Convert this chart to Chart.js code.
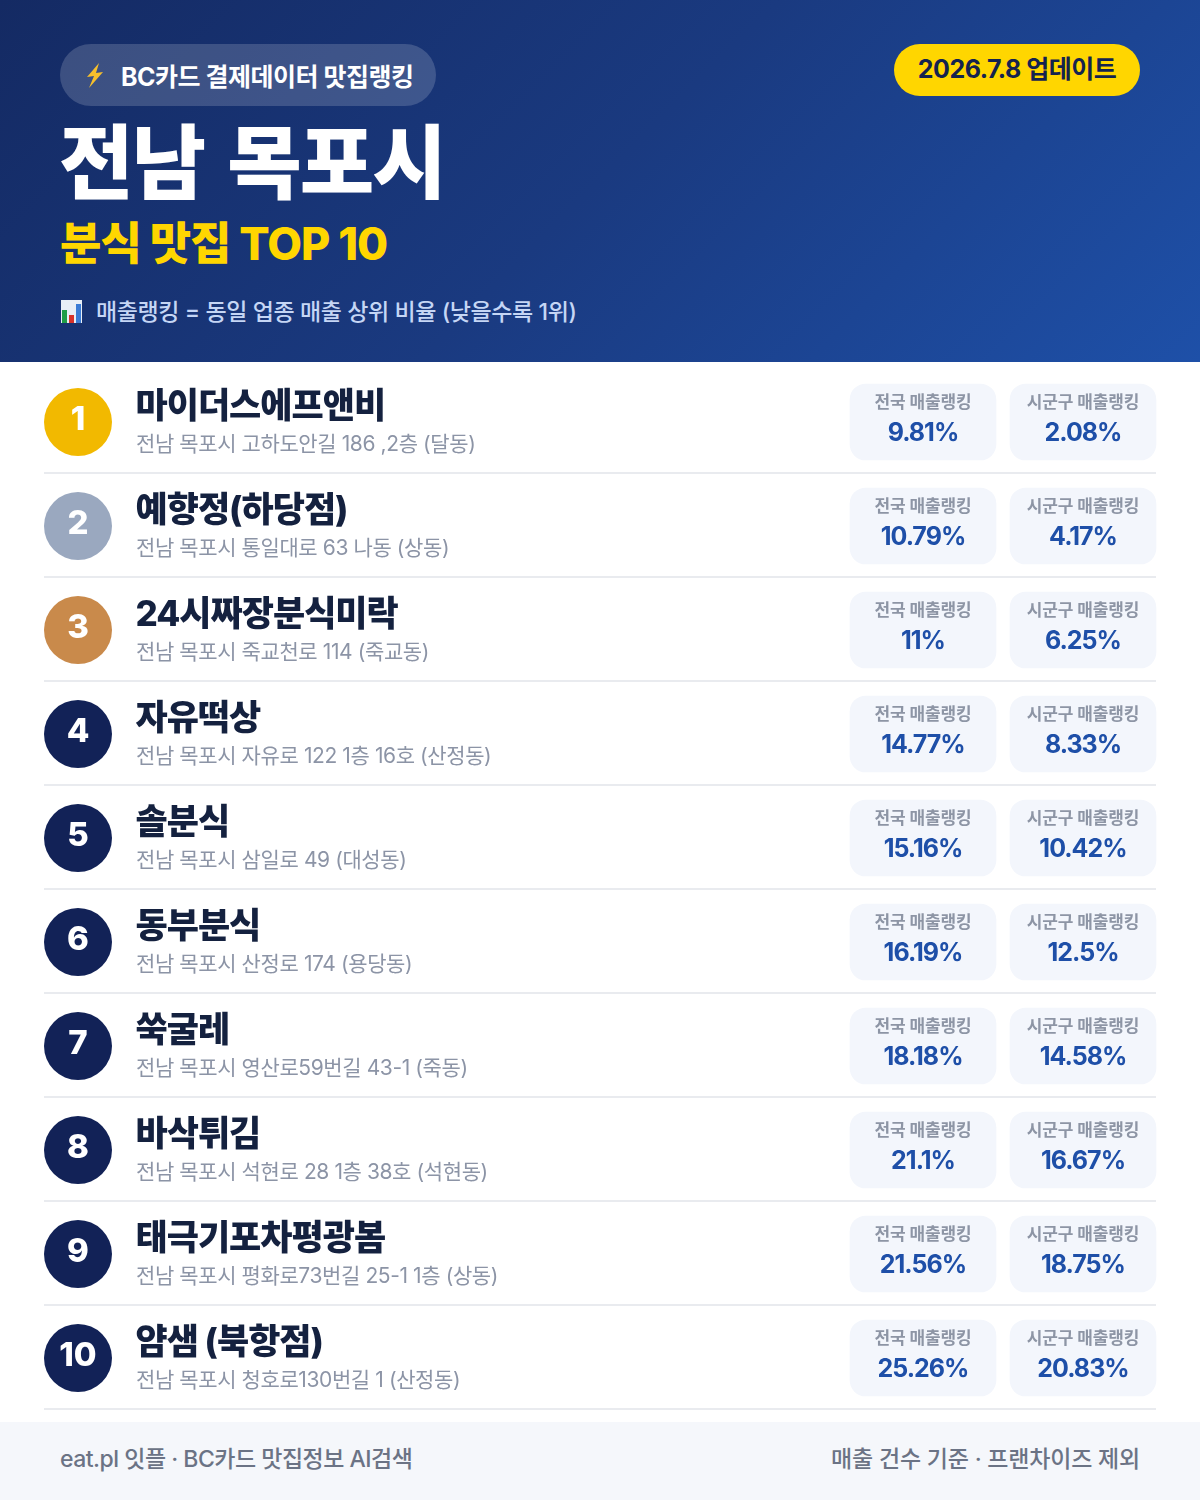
<!DOCTYPE html>
<html lang="ko">
<head>
<meta charset="utf-8">
<title>전남 목포시 분식 맛집 TOP 10</title>
<script src="https://cdn.jsdelivr.net/npm/chart.js@4"></script>
<style>
  * { box-sizing: border-box; }
  body { margin: 0; width: 1200px; height: 1500px; position: relative; background: #fff; overflow: hidden;
         font-family: Inter, "Noto Sans CJK KR", sans-serif; }
  #header { position: absolute; left: 0; top: 0; width: 1200px; height: 362px;
            background: linear-gradient(135deg, #142a63 0%, #1a3a80 50%, #1e50a8 100%); }
  #header div, #footer div { position: absolute; white-space: nowrap; }
  #badge { left: 60px; top: 44px; width: 376px; height: 62px; border-radius: 31px; background: rgba(255,255,255,.17); }
  #badge svg { position: absolute; left: 24px; top: 19px; }
  #badge span { position: absolute; left: 61px; top: 2px; line-height: 62px; font-size: 25px; font-weight: 700; color: #fff; letter-spacing: -.5px; }
  #update { left: 894px; top: 44px; width: 246px; height: 52px; border-radius: 26px; background: #ffd600;
            text-align: center; line-height: 50px; font-size: 25px; font-weight: 700; color: #14234f; letter-spacing: -.5px; }
  #title { left: 59px; top: 105px; font-size: 81px; line-height: 116px; font-weight: 900; color: #fff; letter-spacing: -2px; word-spacing: 9px; }
  #subtitle { left: 60px; top: 212px; font-size: 45px; line-height: 64px; font-weight: 800; color: #ffd600; letter-spacing: -1px; }
  #note { left: 96px; top: 295px; font-size: 23px; line-height: 34px; font-weight: 500; color: #c5d6f5; letter-spacing: -.4px; }
  #noteIcon { position: absolute; left: 61px; top: 300px; }
  #chartBox { position: absolute; left: 0; top: 362px; width: 1200px; height: 1060px; }
  #footer { position: absolute; left: 0; top: 1422px; width: 1200px; height: 78px; background: #f5f7fb; }
  #footer div { top: 0; line-height: 74px; font-size: 23px; font-weight: 500; color: #6b7385; letter-spacing: -.5px; }
  #footL { left: 60px; }
  #footR { right: 60px; letter-spacing: -.2px !important; }
</style>
</head>
<body>
<div id="header">
  <div id="badge">
    <svg width="22" height="25" viewBox="0 0 22 25" aria-hidden="true"><path d="M15 0 L3 14 L10 13 L5 25 L19 9 L12 10 Z" fill="#f7c02c"/></svg>
    <span>BC카드 결제데이터 맛집랭킹</span>
  </div>
  <div id="update">2026.7.8 업데이트</div>
  <div id="title">전남 목포시</div>
  <div id="subtitle">분식 맛집 TOP 10</div>
  <svg id="noteIcon" width="21" height="23" viewBox="0 0 21 23" aria-hidden="true">
    <rect width="21" height="23" fill="#e8eef6"/>
    <rect x="1" y="10" width="5" height="13" fill="#1f9d46"/>
    <rect x="8" y="15" width="5" height="8" fill="#d8322a"/>
    <rect x="15" y="4" width="5" height="19" fill="#3a7bd5"/>
  </svg>
  <div id="note">매출랭킹 = 동일 업종 매출 상위 비율 (낮을수록 1위)</div>
</div>
<div id="chartBox"><canvas id="rankChart" width="1200" height="1060"></canvas></div>
<div id="footer">
  <div id="footL">eat.pl 잇플 · BC카드 맛집정보 AI검색</div>
  <div id="footR">매출 건수 기준 · 프랜차이즈 제외</div>
</div>
<script>
// 가게 목록과 매출랭킹 값
const storeNames = ['마이더스에프앤비', '예향정(하당점)', '24시짜장분식미락', '자유떡상', '솔분식', '동부분식', '쑥굴레', '바삭튀김', '태극기포차평광봄', '얌샘 (북항점)'];
const addresses = [
    '전남 목포시 고하도안길 186 ,2층 (달동)',
    '전남 목포시 통일대로 63 나동 (상동)',
    '전남 목포시 죽교천로 114 (죽교동)',
    '전남 목포시 자유로 122 1층 16호 (산정동)',
    '전남 목포시 삼일로 49 (대성동)',
    '전남 목포시 산정로 174 (용당동)',
    '전남 목포시 영산로59번길 43-1 (죽동)',
    '전남 목포시 석현로 28 1층 38호 (석현동)',
    '전남 목포시 평화로73번길 25-1 1층 (상동)',
    '전남 목포시 청호로130번길 1 (산정동)'
];
const ranks = [1, 2, 3, 4, 5, 6, 7, 8, 9, 10];
const nationalPct = [9.81, 10.79, 11, 14.77, 15.16, 16.19, 18.18, 21.1, 21.56, 25.26];
const localPct = [2.08, 4.17, 6.25, 8.33, 10.42, 12.5, 14.58, 16.67, 18.75, 20.83];
const cardLabels = ['전국 매출랭킹', '시군구 매출랭킹'];

const FONT = 'Inter, "Noto Sans CJK KR", sans-serif';
const CARD_W = 146;
const CARD_L = [850, 1010];
const RANK_X = 78;
const ROW_H = 104;

function rankColor(i) {
    if (i === 0) return '#f2b900';
    if (i === 1) return '#9aa8bf';
    if (i === 2) return '#c98a4b';
    return '#122257';
}

function text(ctx, str, x, y, font, color, align, spacing) {
    ctx.font = font + ' ' + FONT;
    ctx.fillStyle = color;
    ctx.textAlign = align;
    ctx.textBaseline = 'middle';
    ctx.letterSpacing = spacing + 'px';
    ctx.fillText(str, x, y);
}

// 구분선과 글자는 y축 위치를 따라 그린다
const rowPlugin = {
    id: 'rowPlugin',
    beforeDatasetsDraw(chart) {
        const { ctx, scales: { y } } = chart;
        ctx.save();
        ctx.fillStyle = '#e9ebef';
        storeNames.forEach((n, i) => {
            ctx.fillRect(44, y.getPixelForValue(i) + ROW_H / 2 - 2, 1112, 2);
        });
        ctx.restore();
    },
    afterDatasetsDraw(chart) {
        const { ctx, scales: { x, y } } = chart;
        ctx.save();
        storeNames.forEach((name, i) => {
            const cy = y.getPixelForValue(i);
            text(ctx, ranks[i], x.getPixelForValue(RANK_X), cy - 2, '800 33px', '#fff', 'center', 0);
            text(ctx, name, 135.5, cy - 15, '800 35px', '#14213f', 'left', -1);
            text(ctx, addresses[i], 136, cy + 23, '400 21px', '#8c94a6', 'left', -0.4);
            [nationalPct, localPct].forEach((vals, c) => {
                const cx = x.getPixelForValue(CARD_L[c] + CARD_W / 2);
                text(ctx, cardLabels[c], cx, cy - 19, '700 17px', '#8d95a5', 'center', -0.1);
                text(ctx, vals[i] + '%', cx, cy + 11, '700 25px', '#1e4fa8', 'center', -1);
            });
        });
        ctx.restore();
    }
};

const cardData = c => storeNames.map(() => [CARD_L[c], CARD_L[c] + CARD_W]);
const cardSet = c => ({
    data: cardData(c),
    backgroundColor: '#f3f6fc',
    borderSkipped: false,
    borderRadius: 16,
    barThickness: 76,
    grouped: false
});

new Chart(document.getElementById('rankChart'), {
    type: 'bar',
    data: {
        labels: storeNames,
        datasets: [
            cardSet(0),
            cardSet(1),
            {
                type: 'scatter',
                data: ranks.map((r, i) => ({ x: RANK_X, y: i })),
                pointRadius: 34,
                pointHoverRadius: 34,
                borderWidth: 0,
                pointBackgroundColor: ranks.map((r, i) => rankColor(i))
            }
        ]
    },
    options: {
        indexAxis: 'y',
        responsive: false,
        animation: false,
        layout: { autoPadding: false, padding: { top: 8, bottom: 12, left: 0, right: 0 } },
        plugins: { legend: { display: false }, tooltip: { enabled: false } },
        scales: {
            x: { type: 'linear', min: 0, max: 1200, display: false },
            y: { type: 'category', display: false, offset: true, grid: { display: false } }
        }
    },
    plugins: [rowPlugin]
});
</script>
</body>
</html>
